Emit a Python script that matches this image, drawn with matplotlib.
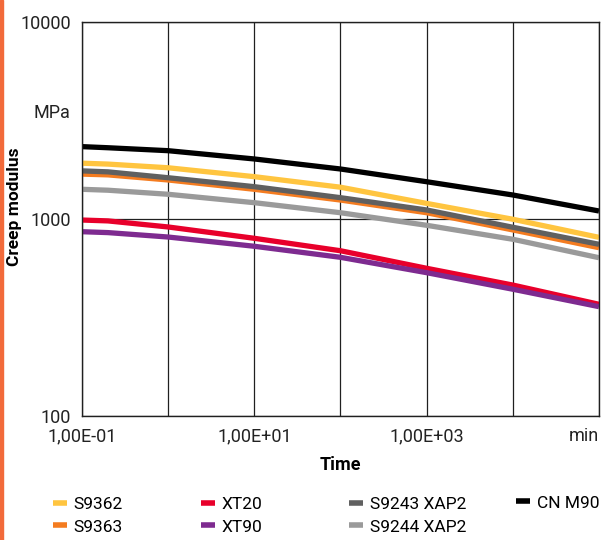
import numpy as np
import matplotlib
matplotlib.use("Agg")
import matplotlib.pyplot as plt
import matplotlib.transforms as mtrans

plt.rcParams['font.family'] = ['Roboto', 'DejaVu Sans']

# time in minutes
time = [0.1, 0.2, 1, 10, 100, 1000, 10000, 100000]

# creep modulus, MPa
s9362 = [1920, 1900, 1820, 1640, 1450, 1200, 997, 807]
s9363 = [1690, 1675, 1578, 1415, 1248, 1076, 880, 715]
xt20 = [988, 978, 911, 798, 690, 562, 462, 369]
xt90 = [862, 853, 810, 727, 639, 534, 440, 359]
s9243 = [1755, 1735, 1620, 1459, 1283, 1111, 908, 744]
s9244 = [1415, 1400, 1335, 1210, 1076, 929, 789, 636]
cnm90 = [2330, 2300, 2222, 2017, 1794, 1546, 1324, 1098]

names = ['S9362', 'S9363', 'XT20', 'XT90', 'S9243 XAP2', 'S9244 XAP2', 'CN M90']
series = [s9362, s9363, xt20, xt90, s9243, s9244, cnm90]
colors = ['#FFC540', '#F47C20', '#E8002B', '#7E2B90', '#606060', '#9A9A9A', '#000000']

xticks = [0.1, 1, 10, 100, 1000, 10000, 100000]
xticklabels = ['1,00E-01', '', '1,00E+01', '', '1,00E+03', '', 'min']
yticks = [100, 1000, 10000]

fig = plt.figure(figsize=(6.05, 5.4), dpi=100)
ax = fig.add_axes([82/605, 1-416/540, (599-82)/605, (416-22)/540])

lines = []
for vals, c, n in zip(series, colors, names):
    l, = ax.plot(time, vals, color=c, lw=3.8, label=n, solid_capstyle='butt')
    lines.append(l)

ax.set_xscale('log')
ax.set_yscale('log')
ax.set_xlim(0.1, 100000)
ax.set_ylim(100, 10000)
ax.set_xticks(xticks)
ax.set_xticklabels(xticklabels)
ax.xaxis.set_minor_locator(matplotlib.ticker.NullLocator())
ax.set_yticks(yticks)
ax.set_yticklabels(['100', '1000', '10000'])
ax.yaxis.set_minor_locator(matplotlib.ticker.NullLocator())
ax.tick_params(length=0, labelsize=13, colors='#222222', pad=8)
ax.get_xticklabels()[-1].set_horizontalalignment('right')
ax.grid(True, color='#202020', lw=0.9)
ax.set_axisbelow(True)
for s in ax.spines.values():
    s.set_color('#202020')
    s.set_linewidth(1.0)

# unit label on y axis
trans = mtrans.blended_transform_factory(ax.transAxes, ax.transData)
ax.text(-12/517, 3450, 'MPa', transform=trans, ha='right', va='center',
        fontsize=13, color='#222222')

fig.text(15/605, 1-207/540, 'Creep modulus', rotation=90, ha='center', va='center',
         fontsize=12.5, fontweight='bold')
fig.text(340/605, 1-465/540, 'Time', ha='center', va='center',
         fontsize=13, fontweight='bold')

# orange bar on left edge
fig.patches.append(plt.Rectangle((0, 0), 3/605, 1, transform=fig.transFigure,
                                 color='#F26A3A', zorder=5))

# legend: four columns
col_x = [53, 201, 349, 516]
groups = [[0, 1], [2, 3], [4, 5], [6]]
for cx, g in zip(col_x, groups):
    hs = [lines[i] for i in g]
    y = 1 - (515.5 if len(g) == 2 else 503)/540
    leg = fig.legend(hs, [names[i] for i in g], loc='center left',
                     bbox_to_anchor=(cx/605, y), frameon=False, fontsize=12.5,
                     handlelength=0.8, handletextpad=0.4, borderpad=0,
                     borderaxespad=0, labelspacing=0.45)
    for lh in leg.get_lines():
        lh.set_linewidth(4)

fig.savefig('out.png', dpi=100)
